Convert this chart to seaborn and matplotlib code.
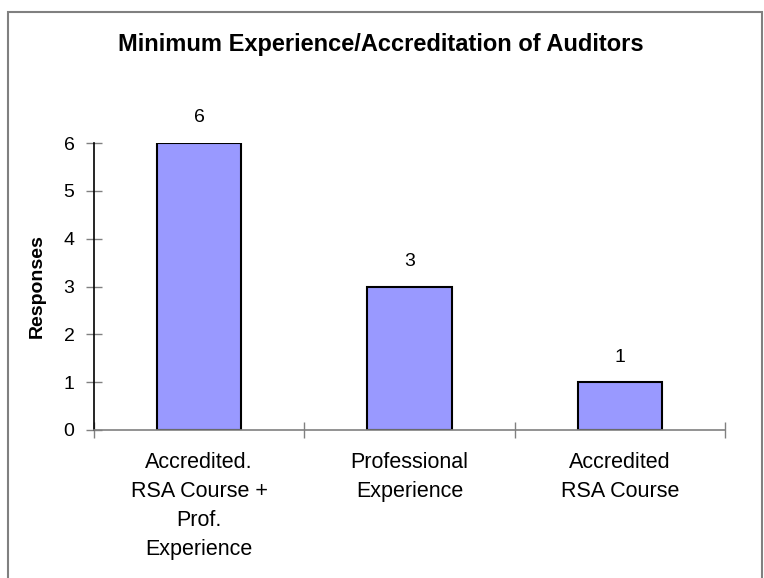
import matplotlib
matplotlib.use("Agg")
import matplotlib.pyplot as plt
import seaborn as sns
import pandas as pd
from matplotlib.patches import Rectangle

categories = ["Accredited.\nRSA Course +\nProf.\nExperience", "Professional\nExperience", "Accredited\nRSA Course"]
responses = [6, 3, 1]
yticks = [0, 1, 2, 3, 4, 5, 6]

sns.set_style("white")
plt.rcParams['font.family'] = ['Liberation Sans', 'DejaVu Sans']
plt.rcParams['text.color'] = 'black'
plt.rcParams['xtick.color'] = 'black'
plt.rcParams['ytick.color'] = 'black'
plt.rcParams['axes.labelcolor'] = 'black'

df = pd.DataFrame({"category": categories, "responses": responses})

fig = plt.figure(figsize=(7.64, 5.78), dpi=100)
# axes placed in pixel terms: left 94, right 725, top 143, bottom 430
ax = fig.add_axes([94 / 764, 1 - 430 / 578, (725 - 94) / 764, (430 - 143) / 578])

sns.barplot(data=df, x="category", y="responses", color="#9999FF", saturation=1,
            width=0.4, edgecolor="black", linewidth=1.5, ax=ax)

ax.set_ylim(0, 6)
ax.set_xlim(-0.5, 2.5)
ax.set_yticks(yticks)
ax.set_xticks([-0.5, 0.5, 1.5, 2.5], minor=False)
ax.set_xticklabels([])
ax.set_xticks([0, 1, 2], minor=True)
ax.set_xticklabels(categories, minor=True, fontsize=15.5, linespacing=1.5)
ax.tick_params(axis="x", which="minor", bottom=False, length=0, pad=16)
ax.tick_params(axis="x", which="major", bottom=True, direction="inout", length=12,
               color="#808080", width=1)
ax.tick_params(axis="y", left=True, direction="inout", length=12, color="#808080",
               width=1, labelsize=14, pad=8)

for s in ["top", "right"]:
    ax.spines[s].set_visible(False)
ax.spines["left"].set_color("black")
ax.spines["left"].set_linewidth(1.2)
ax.spines["bottom"].set_color("#808080")
ax.spines["bottom"].set_linewidth(1.2)

for i, v in enumerate(responses):
    ax.annotate(str(v), (i, v), xytext=(0, 18), textcoords="offset points",
                ha="center", va="center", fontsize=14)

ax.set_xlabel("")
ax.set_ylabel("Responses", fontsize=14, fontweight="bold", labelpad=13)
fig.text(381 / 764, 1 - 51 / 578, "Minimum Experience/Accreditation of Auditors",
         ha="center", va="baseline", fontsize=17, fontweight="bold")

fig.patches.append(Rectangle((8 / 764, -0.1), (762 - 8) / 764, 1.1 - 12 / 578,
                             transform=fig.transFigure, fill=False,
                             edgecolor="#808080", linewidth=1.5))

fig.savefig("out.png", dpi=100)
